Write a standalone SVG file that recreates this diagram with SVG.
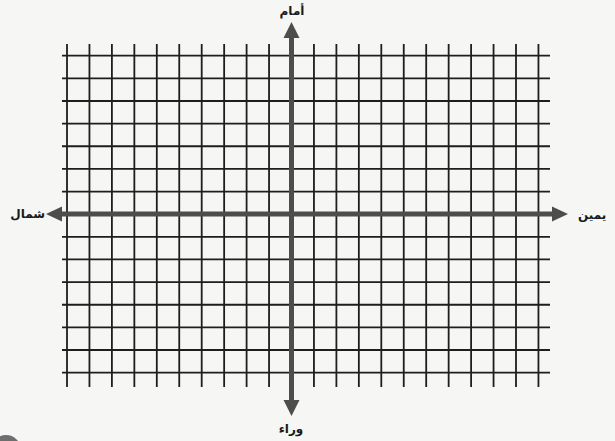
<svg xmlns="http://www.w3.org/2000/svg" width="615" height="441" viewBox="0 0 615 441">
<defs>
<style>
.grid{stroke:#1e1e1e;stroke-width:1.8;fill:none}
.axis{stroke:#4d4d4d;stroke-width:5;fill:none}
.head{fill:#4d4d4d}
.lbl{font-family:"DejaVu Sans",sans-serif;font-weight:bold;font-size:12px;fill:#1a1a1a}
</style>
</defs>
<rect width="615" height="441" fill="#f6f6f4"/>
<circle cx="6" cy="450" r="15" fill="#6e6e6e"/>
<g id="grid" class="grid">
<path d="M67,44V387M89.45,44V387M111.9,44V387M134.35,44V387M156.8,44V387M179.25,44V387M201.7,44V387M224.15,44V387M246.6,44V387M269.05,44V387M313.95,44V387M336.4,44V387M358.85,44V387M381.3,44V387M403.75,44V387M426.2,44V387M448.65,44V387M471.1,44V387M493.55,44V387M516,44V387M538.45,44V387"/>
<path d="M62,55.7H550M62,78.34H550M62,100.98H550M62,123.62H550M62,146.26H550M62,168.9H550M62,191.54H550M62,236.82H550M62,259.46H550M62,282.1H550M62,304.74H550M62,327.38H550M62,350.02H550M62,372.66H550"/>
</g>
<g id="connectors">
<path class="axis" d="M291.5,37V402"/>
<polygon class="head" points="291.5,22 283.5,38 299.5,38"/>
<polygon class="head" points="291.5,416 283.5,400 299.5,400"/>
<path class="axis" d="M60,214H554"/>
<polygon class="head" points="46,214 62,206.5 62,221.5"/>
<polygon class="head" points="568,214 552,206.5 552,221.5"/>
</g>
<g id="front"><text class="lbl" x="292" y="15" text-anchor="middle">أمام</text></g>
<g id="back"><text class="lbl" x="291" y="433" text-anchor="middle">وراء</text></g>
<g id="left"><text class="lbl" x="45" y="218" text-anchor="end">شمال</text></g>
<g id="right"><text class="lbl" x="578" y="219" text-anchor="start">يمين</text></g>
</svg>
